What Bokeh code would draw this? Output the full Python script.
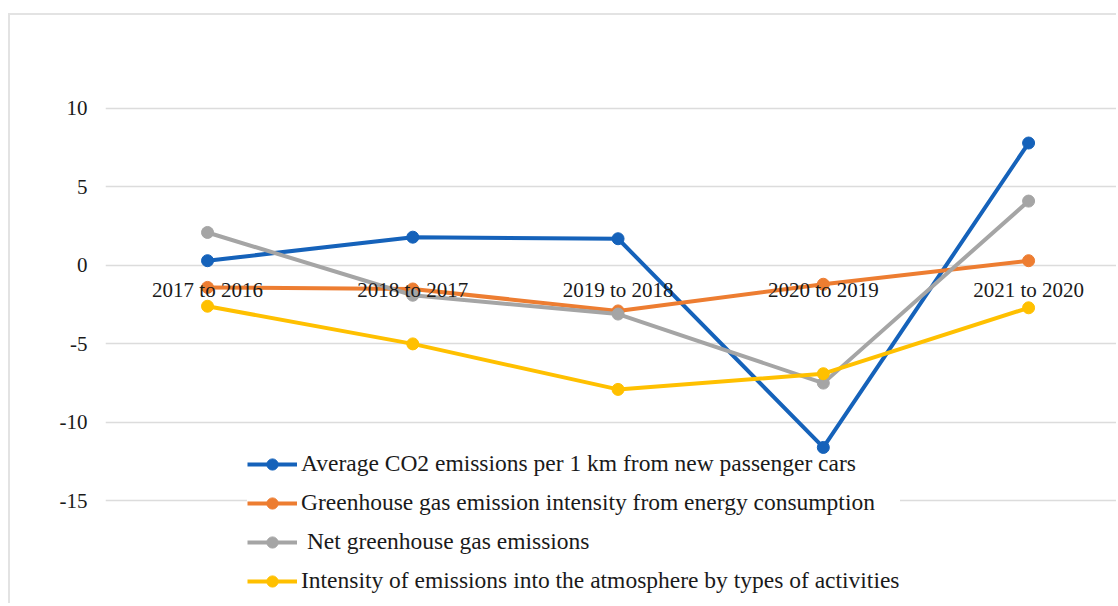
from bokeh.plotting import figure
from bokeh.models import ColumnDataSource, Legend, LegendItem, FixedTicker, Range1d
from bokeh.core.properties import value
from bokeh.embed import file_html
from bokeh.resources import INLINE

categories = ["2017 to 2016", "2018 to 2017", "2019 to 2018", "2020 to 2019", "2021 to 2020"]
series_names = [
    "Average CO2 emissions per 1 km from new passenger cars",
    "Greenhouse gas emission intensity from energy consumption",
    " Net greenhouse gas emissions",
    "Intensity of emissions into the atmosphere by types of activities",
]
co2_cars = [0.3, 1.8, 1.7, -11.6, 7.8]
ghg_intensity = [-1.4, -1.5, -2.9, -1.2, 0.3]
net_ghg = [2.1, -1.9, -3.1, -7.5, 4.1]
atmos_intensity = [-2.6, -5.0, -7.9, -6.9, -2.7]
y_ticks = [-15, -10, -5, 0, 5, 10]

colors = ["#1562BA", "#ED7D31", "#A5A5A5", "#FFC000"]
FONT = "Liberation Serif"

xs = list(range(len(categories)))

p = figure(width=1108, height=590, output_backend="svg", toolbar_location=None,
           x_range=Range1d(-0.497, 4.438), y_range=Range1d(-21.67, 13.95),
           min_border_left=95, min_border_right=0, min_border_top=31, min_border_bottom=0,
           margin=(13, 0, 0, 8))
p.styles = {"border-left": "2px solid #e3e3e3", "border-top": "2px solid #e3e3e3"}
p.outline_line_color = None
p.background_fill_color = "white"
p.border_fill_color = "white"

p.xaxis.visible = False
p.xgrid.visible = False
p.yaxis.ticker = FixedTicker(ticks=y_ticks)
p.yaxis.major_label_overrides = {t: str(t) for t in y_ticks}
p.yaxis.axis_line_color = None
p.yaxis.major_tick_line_color = None
p.yaxis.minor_tick_line_color = None
p.yaxis.major_tick_out = 0
p.yaxis.major_tick_in = 0
p.yaxis.minor_tick_out = 0
p.yaxis.major_label_standoff = 18
p.yaxis.major_label_text_font = FONT
p.yaxis.major_label_text_font_size = "21px"
p.yaxis.major_label_text_color = "#1a1a1a"
p.ygrid.grid_line_color = "#dcdcdc"
p.ygrid.grid_line_width = 1.5

items = []
for i, (name, vals, c) in enumerate(zip(series_names, [co2_cars, ghg_intensity, net_ghg, atmos_intensity], colors)):
    src = ColumnDataSource(dict(x=xs, y=vals))
    l = p.line("x", "y", source=src, line_color=c, line_width=4)
    m = p.scatter("x", "y", source=src, size=12, fill_color=c, line_color=c)
    items.append(LegendItem(label=name, renderers=[l, m]))

lab = ColumnDataSource(dict(x=xs, y=[0] * len(xs), t=categories))
p.text("x", "y", text="t", source=lab, text_font=value(FONT), text_font_size="21px",
       text_align="center", text_baseline="middle", y_offset=25, text_color="#1a1a1a")

legend_style = dict(orientation="vertical",
                    label_text_font=FONT, label_text_font_size="23.5px", label_text_color="#1a1a1a",
                    glyph_width=50, glyph_height=28, label_height=29, spacing=10,
                    label_standoff=4, padding=0, margin=0, border_line_color=None)

legend_top = Legend(items=items[:1], location=(142, 127), background_fill_alpha=0.0, **legend_style)
legend_rest = Legend(items=items[1:], location=(142, 10), background_fill_color="white",
                     background_fill_alpha=1.0, **legend_style)
p.add_layout(legend_top, "center")
p.add_layout(legend_rest, "center")

open("out.html", "w").write(file_html(p, INLINE))
